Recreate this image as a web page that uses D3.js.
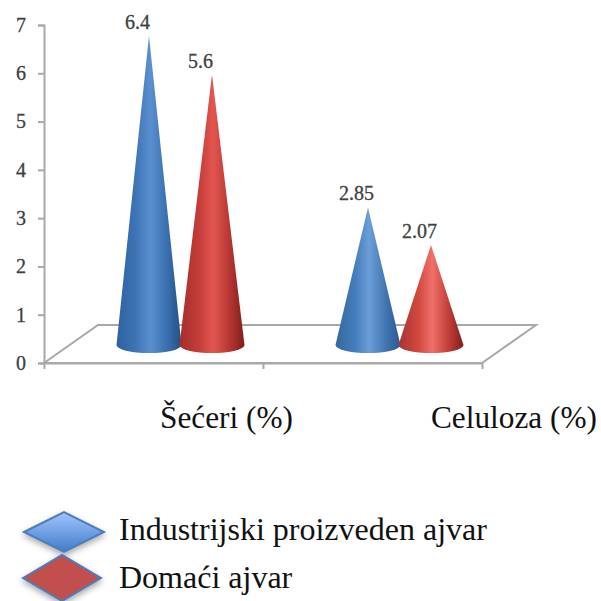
<!DOCTYPE html>
<html>
<head>
<meta charset="utf-8">
<script src="https://cdn.jsdelivr.net/npm/d3@7"></script>
<style>
  html, body { margin: 0; padding: 0; background: #fff; }
  svg { display: block; }
  .tick-label { font-family: "Liberation Serif", serif; font-size: 20px; fill: #404040; stroke: #404040; stroke-width: 0.3px; }
  .page-text { font-family: "Liberation Serif", serif; font-size: 31.3px; fill: #111; }
  .legend-text { font-size: 32px; }
</style>
</head>
<body>
<div id="chart"></div>
<script>
// Data
const categories = ['Šećeri (%)', 'Celuloza (%)'];
const seriesNames = ['Industrijski proizveden ajvar', 'Domaći ajvar'];
const industrijski = [6.4, 2.85];
const domaci = [5.6, 2.07];
const valueLabels = [['6.4', '2.85'], ['5.6', '2.07']];
const yTicks = [0, 1, 2, 3, 4, 5, 6, 7];

const width = 601;
const height = 601;

const svg = d3.select('#chart')
  .append('svg')
  .attr('width', width)
  .attr('height', height);

const defs = svg.append('defs');

// Scales
const y = d3.scaleLinear().domain([0, 7]).range([363, 25]);
const x = d3.scaleBand().domain(categories).range([44, 482]);
const x1 = d3.scaleBand().domain(seriesNames).range([0, 126]);

// 3D floor offsets
const floorDx = 54;
const floorDy = -38;
const baseLift = 18; // cones stand this far up from the axis zero
const rx = 32.5;
const ry = 8;

// Cone shading, one horizontal gradient per series and category
const coneStops = [
  [['#2f619f', '#3d74b6', '#5a90cf', '#3a6fae', '#234f86'],
   ['#36689f', '#447cbc', '#6c9ed6', '#3f74b0', '#2a5a90']],
  [['#a52d2b', '#c43d3a', '#e2564f', '#b43432', '#7f1f1d'],
   ['#a93230', '#d0483f', '#f0706a', '#c03c38', '#7f1f1d']]
];
const stopOffsets = [0, 0.3, 0.52, 0.78, 1];

coneStops.forEach((bySeries, s) => {
  bySeries.forEach((colors, c) => {
    const grad = defs.append('linearGradient')
      .attr('id', `cone-${s}-${c}`)
      .attr('x1', 0).attr('x2', 1).attr('y1', 0).attr('y2', 0);
    colors.forEach((col, i) => {
      grad.append('stop').attr('offset', stopOffsets[i]).attr('stop-color', col);
    });
  });
});

const legendBlue = defs.append('linearGradient')
  .attr('id', 'legend-blue')
  .attr('x1', 0).attr('x2', 0).attr('y1', 0).attr('y2', 1);
legendBlue.append('stop').attr('offset', 0).attr('stop-color', '#a3c4ff');
legendBlue.append('stop').attr('offset', 1).attr('stop-color', '#3f7cc8');

const shadow = defs.append('filter')
  .attr('id', 'shadow')
  .attr('x', '-20%').attr('y', '-20%').attr('width', '140%').attr('height', '150%');
shadow.append('feDropShadow')
  .attr('dx', 0).attr('dy', 3).attr('stdDeviation', 3)
  .attr('flood-color', '#000').attr('flood-opacity', 0.35);

const soft = defs.append('filter').attr('id', 'soft');
soft.append('feGaussianBlur').attr('stdDeviation', 0.5);

const grey = '#a8a8a8';

// Floor
const [x0, x2] = x.range();
const floorPts = [
  [x0, y(0)], [x0 + floorDx, y(0) + floorDy],
  [x2 + floorDx, y(0) + floorDy], [x2, y(0)]
];
svg.append('path')
  .attr('d', d3.line()(floorPts) + 'Z')
  .attr('fill', '#fff')
  .attr('stroke', grey)
  .attr('stroke-width', 2);

// Axes
const yAxis = d3.axisLeft(y)
  .tickValues(yTicks)
  .tickFormat(d3.format('d'))
  .tickSize(6)
  .tickPadding(12);
const gy = svg.append('g').attr('transform', `translate(${x0},0)`).call(yAxis);
gy.selectAll('path, line').attr('stroke', grey).attr('stroke-width', 2);
gy.selectAll('text').attr('class', 'tick-label').attr('fill', null).attr('dy', '0.32em');

const xTickScale = d3.scaleLinear().domain([0, categories.length]).range(x.range());
const xAxis = d3.axisBottom(xTickScale)
  .tickValues(d3.range(categories.length + 1))
  .tickFormat('')
  .tickSize(6)
  .tickSizeOuter(0);
const gx = svg.append('g').attr('transform', `translate(0,${y(0)})`).call(xAxis);
gx.selectAll('path, line').attr('stroke', grey).attr('stroke-width', 2);

// Cones
const coneData = [];
[industrijski, domaci].forEach((values, s) => {
  values.forEach((v, c) => {
    coneData.push({
      s, c, value: v,
      label: valueLabels[s][c],
      cx: x(categories[c]) + x.bandwidth() / 2 + floorDx / 2 - 63 + x1(seriesNames[s]) + x1.bandwidth() / 2
    });
  });
});

const baseY = y(0) - baseLift;
const unit = y(0) - y(1);

const cones = svg.append('g').selectAll('g')
  .data(coneData)
  .enter()
  .append('g');

cones.append('path')
  .attr('d', (d) => {
    const apex = baseY - d.value * unit;
    return `M${d.cx},${apex}L${d.cx + rx},${baseY}A${rx},${ry} 0 0 1 ${d.cx - rx},${baseY}Z`;
  })
  .attr('fill', (d) => `url(#cone-${d.s}-${d.c})`)
  .attr('filter', 'url(#soft)');

cones.append('text')
  .attr('class', 'tick-label')
  .attr('x', (d) => d.cx - 11.5)
  .attr('y', (d) => baseY - d.value * unit - 7)
  .attr('text-anchor', 'middle')
  .text((d) => d.label);

// Category labels
const categoryX = [160, 431];
svg.append('g').selectAll('text')
  .data(categories)
  .enter()
  .append('text')
  .attr('class', 'page-text')
  .attr('x', (d, i) => categoryX[i])
  .attr('y', 428)
  .text((d) => d);

// Legend
const legendFill = ['url(#legend-blue)', '#c0504d'];
const legendCx = [64, 62];
const legendCy = [532, 578];
const legendHw = [40, 39];
const legendHh = [20, 23];
const legendTextY = [540, 588];

const legend = svg.append('g').selectAll('g')
  .data(seriesNames)
  .enter()
  .append('g');

legend.append('path')
  .attr('d', (d, i) => {
    const cx = legendCx[i];
    const cy = legendCy[i];
    const hw = legendHw[i];
    const hh = legendHh[i];
    return `M${cx - hw},${cy}L${cx},${cy - hh}L${cx + hw},${cy}L${cx},${cy + hh}Z`;
  })
  .attr('fill', (d, i) => legendFill[i])
  .attr('stroke', '#4a7ebb')
  .attr('stroke-width', 2)
  .attr('filter', 'url(#shadow)');

legend.append('text')
  .attr('class', 'page-text legend-text')
  .attr('x', 119)
  .attr('y', (d, i) => legendTextY[i])
  .text((d) => d);
</script>
</body>
</html>
